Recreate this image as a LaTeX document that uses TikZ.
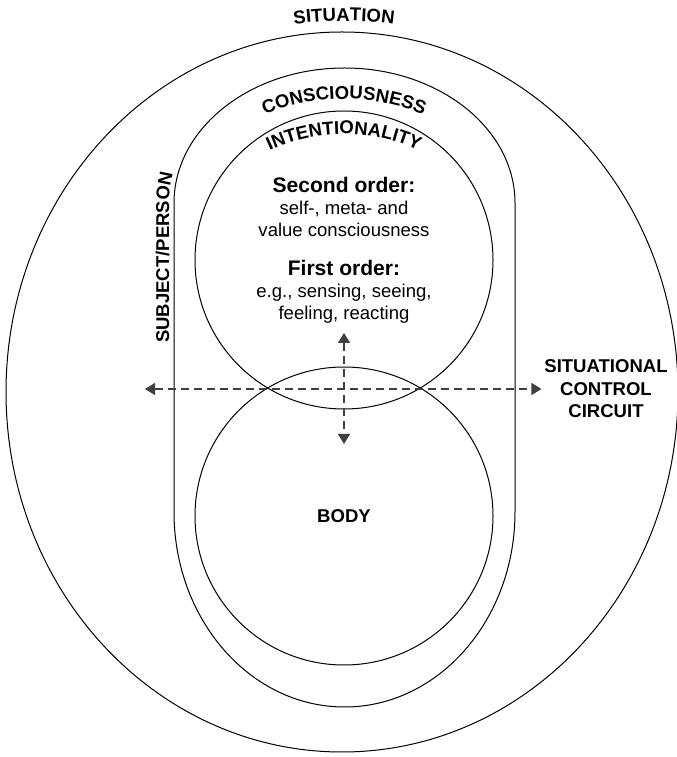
\documentclass[tikz,border=0pt]{standalone}
\usepackage{fontspec}
\setmainfont{Liberation Sans}
\usetikzlibrary{arrows.meta,positioning,decorations.text}

\newcommand\capfont{\fontsize{13.9}{16.9}\selectfont\bfseries}
\newcommand\txtfont{\fontsize{13.9}{16.5}\selectfont}
\newcommand\headfont{\fontsize{15.8}{16.5}\selectfont\bfseries}

\begin{document}
\begin{tikzpicture}[
    x=0.75pt, y=0.75pt,
    ring/.style={draw, circle, minimum size=223.5pt, inner sep=0pt},
    caplabel/.style={font=\capfont, align=center, inner sep=2pt},
    txt/.style={font=\txtfont, align=center},
    flow/.style={draw=black!75, line width=0.9pt, dash pattern=on 6pt off 3.75pt,
        {Triangle[length=7.5pt,width=9pt]}-{Triangle[length=7.5pt,width=9pt]}},
    outline/.style={line width=0.75pt}
]
\useasboundingbox (0,0) rectangle (677,757);

% situation and subject/person
\draw[outline] (342,365) ellipse[x radius=336, y radius=360];
\draw[outline] (174,554) -- (174,245) arc[start angle=180, end angle=360, x radius=170.5, y radius=195]
    -- (515,554) arc[start angle=0, end angle=180, x radius=170.5, y radius=135] -- cycle;

% intentionality and body
\node[ring, outline] (intent) at (344,497) {};
\node[ring, outline, caplabel] (body) at (344,241) {BODY};

\node[txt] (second) at (344,550) {{\headfont Second order:}\\self-, meta- and\\value consciousness};
\node[txt] (first) at (344,465) {{\headfont First order:}\\e.g., sensing, seeing,\\feeling, reacting};
\node[caplabel] (scc) at (606,368) {SITUATIONAL\\CONTROL\\CIRCUIT};

\coordinate (ctr) at (344,368);
\coordinate (arcs) at (344,448);
\coordinate (west) at (145,368);
\coordinate (up) at (344,424);
\coordinate (down) at (344,313);

\draw[flow] (west) -- (scc.west);
\draw[flow] (up) -- (down);

% curved labels
\path[decorate, decoration={text along path, text align=center, text={|\capfont|SITUATION}}]
    (ctr) ++(110:368) arc[start angle=110, end angle=70, radius=368];
\path[decorate, decoration={text along path, text align=center, text={|\capfont|CONSCIOUSNESS}}]
    (arcs) ++(150:210) arc[start angle=150, end angle=30, radius=210];
\path[decorate, decoration={text along path, text align=center, text={|\capfont|INTENTIONALITY}}]
    (arcs) ++(150:175) arc[start angle=150, end angle=30, radius=175];
\path[decorate, decoration={text along path, text={|\capfont|SUBJECT/PERSON}}]
    (169,414) -- (169,554) arc[start angle=180, end angle=120, x radius=175.5, y radius=140];
\end{tikzpicture}
\end{document}
